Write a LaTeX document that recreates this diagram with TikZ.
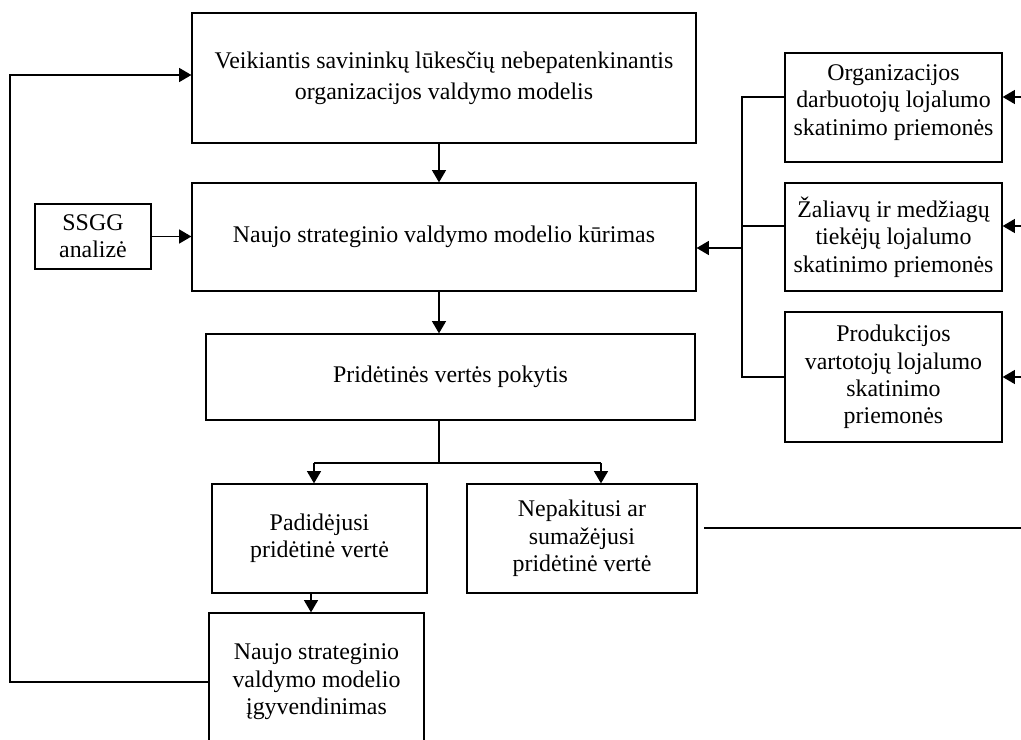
\documentclass[tikz,border=0pt]{standalone}
\usepackage{fontspec}
\setmainfont{Liberation Serif}
\usetikzlibrary{arrows.meta}

\begin{document}
\begin{tikzpicture}[x=0.02cm, y=-0.02cm, line width=0.75pt,
  box/.style={draw, align=center, inner sep=2pt, font=\fontsize{13.6}{15.6}\selectfont},
  arr/.style={-{Triangle[length=7pt, width=8pt]}}]
\useasboundingbox (0,0) rectangle (1021,740);
% main column
\node[box, minimum width=10.08cm, minimum height=2.6cm, font=\fontsize{13.6}{17.6}\selectfont] (veik) at (444,78)
  {Veikiantis savininkų lūkesčių nebepatenkinantis\\organizacijos valdymo modelis};
\node[box, minimum width=10.08cm, minimum height=2.16cm] (kur) at (444,237)
  {Naujo strateginio valdymo modelio kūrimas};
\node[box, minimum width=2.32cm, minimum height=1.3cm] (ssgg) at (93,236.5) {SSGG\\analizė};
\node[box, minimum width=9.78cm, minimum height=1.72cm] (pokyt) at (450.5,377)
  {Pridėtinės vertės pokytis};
\node[box, minimum width=4.3cm, minimum height=2.18cm] (padid) at (319.5,538.5)
  {Padidėjusi\\pridėtinė vertė};
\node[box, minimum width=4.6cm, minimum height=2.18cm] (nepak) at (582,538.5)
  {Nepakitusi ar\\sumažėjusi\\pridėtinė vertė};
\node[box, minimum width=4.3cm, minimum height=2.76cm] (igyv) at (316.5,682)
  {Naujo strateginio\\valdymo modelio\\įgyvendinimas};
% loyalty measures
\node[box, minimum width=4.34cm, minimum height=2.18cm, text depth=0.3cm] (orgd) at (893.5,107.5)
  {Organizacijos\\darbuotojų lojalumo\\skatinimo priemonės};
\node[box, minimum width=4.34cm, minimum height=2.16cm] (zal) at (893.5,237)
  {Žaliavų ir medžiagų\\tiekėjų lojalumo\\skatinimo priemonės};
\node[box, minimum width=4.34cm, minimum height=2.6cm] (prod) at (893.5,377)
  {Produkcijos\\vartotojų lojalumo\\skatinimo\\priemonės};
% junction points
\coordinate (axis) at (439,0);
\coordinate (brL) at (314,463);
\coordinate (brR) at (601,463);
\coordinate (dn) at (311,600);
\coordinate (jA) at (742,97);
\coordinate (jB) at (742,226);
\coordinate (jC) at (742,377);
\coordinate (jK) at (742,248);
\coordinate (inA) at (1040,97);
\coordinate (inB) at (1040,226);
\coordinate (inC) at (1040,377);
\coordinate (out) at (1040,528);
\coordinate (fbtop) at (10,75);
% connectors
\draw[arr] (veik.south -| axis) -- (kur.north -| axis);
\draw[arr] (kur.south -| axis) -- (pokyt.north -| axis);
\draw[arr] (ssgg.east) -- (kur.west |- ssgg.east);
\draw (pokyt.south -| axis) -- (axis |- brL);
\draw (brL) -- (brR);
\draw[arr] (brL) -- (padid.north -| brL);
\draw[arr] (brR) -- (nepak.north -| brR);
\draw[arr] (padid.south -| dn) -- (igyv.north -| dn);
\draw[arr] (igyv.west) -| (fbtop) -- (veik.west |- fbtop);
\draw[shorten <=5\pgflinewidth] (nepak.east |- out) -- (out);
\draw (orgd.west |- jA) -- (jA) -- (jC) -- (prod.west |- jC);
\draw (zal.west |- jB) -- (jB);
\draw[arr] (jK) -- (kur.east |- jK);
\foreach \i/\b in {inA/orgd, inB/zal, inC/prod}{
  \draw[arr] (\i) -- (\b.east |- \i);
}
\end{tikzpicture}
\end{document}
